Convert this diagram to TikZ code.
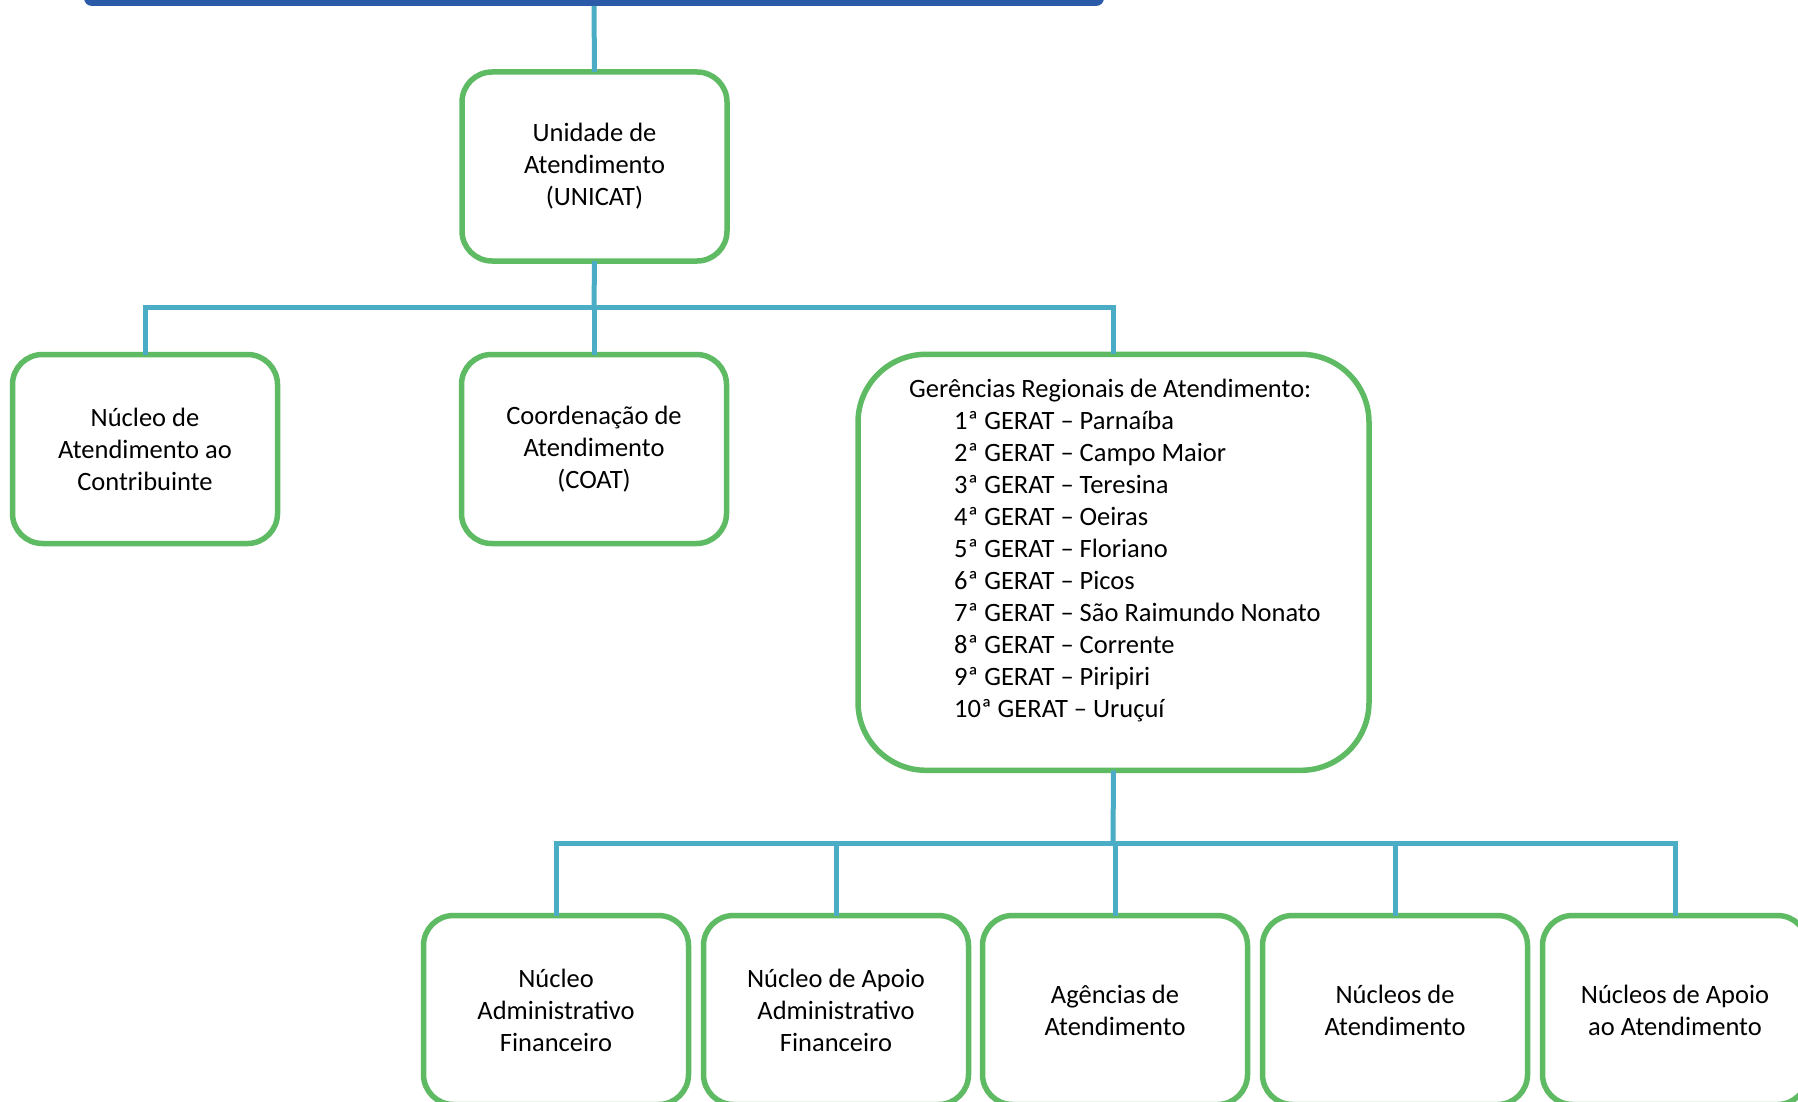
\documentclass[tikz,border=0pt]{standalone}
\usepackage{fontspec}
\setmainfont{Carlito}
\definecolor{boxgreen}{RGB}{95,187,99}
\definecolor{linkblue}{RGB}{75,172,198}
\definecolor{titleblue}{RGB}{43,91,168}
\begin{document}
\begin{tikzpicture}[x=1pt,y=-1pt,
  orgbox/.style={draw=boxgreen, line width=5.5pt, fill=white, rounded corners=30pt,
    minimum width=265pt, minimum height=189pt, inner sep=0pt, outer sep=0pt,
    align=center, font=\fontsize{26.5}{32}\selectfont},
  link/.style={draw=linkblue, line width=5pt}]
\useasboundingbox (0,0) rectangle (1798,1102);
\clip (0,0) rectangle (1798,1102);
% title bar (cut off at top)
\node[fill=titleblue, rounded corners=8pt, minimum width=1020pt, minimum height=66pt,
  inner sep=0pt, outer sep=0pt] (title) at (594,-27) {};
% boxes
\node[orgbox] (unicat) at (594.5,166.5) {Unidade de\\Atendimento\\(UNICAT)};
\node[orgbox] (nac) at (145,449) {Núcleo de\\Atendimento ao\\Contribuinte};
\node[orgbox] (coat) at (594,449) {Coordenação de\\Atendimento\\(COAT)};
\node[orgbox, rounded corners=68pt, minimum width=511pt, minimum height=416pt] (gerat) at (1113.5,562.3) {};
\node[align=left, inner sep=0pt, anchor=north west, font=\fontsize{26.5}{32}\selectfont] (gerattxt) at (909,379)
{Gerências Regionais de Atendimento:\\
\hspace*{45pt}1ª GERAT – Parnaíba\\
\hspace*{45pt}2ª GERAT – Campo Maior\\
\hspace*{45pt}3ª GERAT – Teresina\\
\hspace*{45pt}4ª GERAT – Oeiras\\
\hspace*{45pt}5ª GERAT – Floriano\\
\hspace*{45pt}6ª GERAT – Picos\\
\hspace*{45pt}7ª GERAT – São Raimundo Nonato\\
\hspace*{45pt}8ª GERAT – Corrente\\
\hspace*{45pt}9ª GERAT – Piripiri\\
\hspace*{45pt}10ª GERAT – Uruçuí};
\node[orgbox] (b1) at (556,1010) {Núcleo\\Administrativo\\Financeiro};
\node[orgbox] (b2) at (836,1010) {Núcleo de Apoio\\Administrativo\\Financeiro};
\node[orgbox] (b3) at (1115,1010) {Agências de\\Atendimento};
\node[orgbox] (b4) at (1395,1010) {Núcleos de\\Atendimento};
\node[orgbox] (b5) at (1675,1010) {Núcleos de Apoio\\ao Atendimento};
% connectors
\coordinate (j1) at (594,307);
\coordinate (j2) at (1113,843);
\draw[link] (title.south) -- (unicat.north);
\draw[link] (unicat.south) -- (j1);
\draw[link] (nac.north) -- (nac.north |- j1) -- (gerat.north |- j1) -- (gerat.north);
\draw[link] (coat.north) -- (coat.north |- j1);
\draw[link] (gerat.south) -- (j2);
\draw[link] (b1.north) -- (b1.north |- j2) -- (b5.north |- j2) -- (b5.north);
\draw[link] (b2.north) -- (b2.north |- j2);
\draw[link] (b3.north) -- (b3.north |- j2);
\draw[link] (b4.north) -- (b4.north |- j2);
\end{tikzpicture}
\end{document}
